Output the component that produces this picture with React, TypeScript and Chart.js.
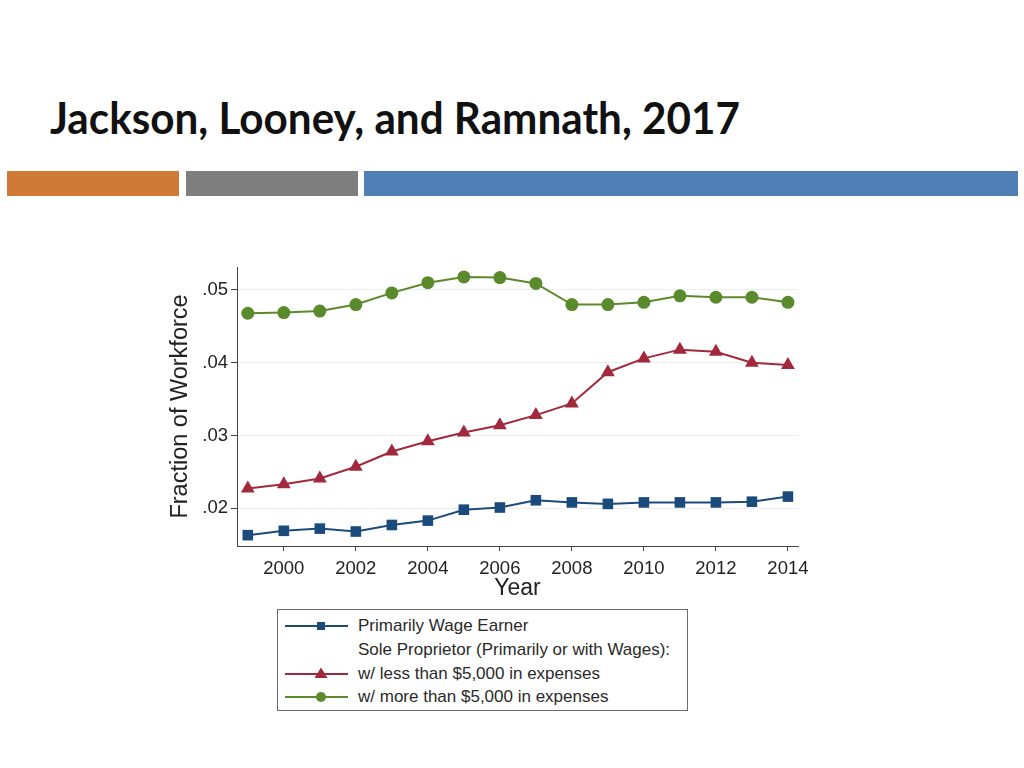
import React, { useEffect, useLayoutEffect, useRef } from "react";
import { Chart, registerables } from "chart.js";

Chart.register(...registerables);

// ---- data ----
const years = [1999, 2000, 2001, 2002, 2003, 2004, 2005, 2006, 2007, 2008, 2009, 2010, 2011, 2012, 2013, 2014];
const wageEarner = [0.0163, 0.0169, 0.0172, 0.0168, 0.0177, 0.0183, 0.0198, 0.0201, 0.0211, 0.0208, 0.0206, 0.0208, 0.0208, 0.0208, 0.0209, 0.0216];
const soleLess = [0.0227, 0.0233, 0.0241, 0.0257, 0.0278, 0.0292, 0.0304, 0.0314, 0.0328, 0.0344, 0.0387, 0.0406, 0.0418, 0.0415, 0.0400, 0.0397];
const soleMore = [0.0468, 0.0469, 0.0471, 0.0480, 0.0496, 0.0510, 0.0518, 0.0517, 0.0509, 0.0480, 0.0480, 0.0483, 0.0492, 0.0490, 0.0490, 0.0483];

const xTickValues = [2000, 2002, 2004, 2006, 2008, 2010, 2012, 2014];
const yTickValues = [0.02, 0.03, 0.04, 0.05];
const yTickLabels = [".02", ".03", ".04", ".05"];

const seriesLabels = [
  "Primarily Wage Earner",
  "w/ less than $5,000 in expenses",
  "w/ more than $5,000 in expenses",
];
const legendHeading = "Sole Proprietor (Primarily or with Wages):";
const slideTitle = "Jackson, Looney, and Ramnath, 2017";
const xAxisTitle = "Year";
const yAxisTitle = "Fraction of Workforce";

// ---- styles ----
const BLUE = "#1b4b7b";
const RED = "#a2293b";
const GREEN = "#5a8a2b";
const FONT = "'Liberation Sans', Arial, Helvetica, sans-serif";

function LegendSample({ kind, color }: { kind: string; color: string }) {
  return (
    <svg width={70} height={20} style={{ position: "absolute", left: 6, top: -10 }}>
      <line x1={1} y1={10} x2={64} y2={10} stroke={color} strokeWidth={2} />
      {kind === "rect" && <rect x={33} y={6} width={8} height={8} fill={color} />}
      {kind === "triangle" && <polygon points="37,3.5 43.5,14 30.5,14" fill={color} />}
      {kind === "circle" && <circle cx={37} cy={10} r={5} fill={color} />}
    </svg>
  );
}

export default function App() {
  const canvasRef = useRef<HTMLCanvasElement | null>(null);
  const titleRef = useRef<HTMLDivElement | null>(null);

  useLayoutEffect(() => {
    const el = titleRef.current;
    if (el) {
      el.style.transform = "none";
      const w = el.getBoundingClientRect().width;
      if (w > 0) el.style.transform = `scaleX(${690 / w})`;
    }
  }, []);

  useEffect(() => {
    const canvas = canvasRef.current;
    if (!canvas) return;
    const mk = (vals: number[]) => years.map((x, i) => ({ x, y: vals[i] }));
    const chart = new Chart(canvas, {
      type: "line",
      data: {
        datasets: [
          {
            label: seriesLabels[0],
            data: mk(wageEarner),
            borderColor: BLUE,
            backgroundColor: BLUE,
            pointBackgroundColor: BLUE,
            pointStyle: "rect",
            pointRadius: 7.5,
            pointBorderWidth: 0,
            borderWidth: 2,
            tension: 0,
          },
          {
            label: seriesLabels[1],
            data: mk(soleLess),
            borderColor: RED,
            backgroundColor: RED,
            pointBackgroundColor: RED,
            pointStyle: "triangle",
            pointRadius: 8,
            pointBorderWidth: 0,
            borderWidth: 2,
            tension: 0,
          },
          {
            label: seriesLabels[2],
            data: mk(soleMore),
            borderColor: GREEN,
            backgroundColor: GREEN,
            pointBackgroundColor: GREEN,
            pointStyle: "circle",
            pointRadius: 6.5,
            pointBorderWidth: 0,
            borderWidth: 2,
            tension: 0,
          },
        ],
      },
      options: {
        responsive: false,
        animation: false,
        events: [],
        layout: { padding: { left: 137, top: 267, right: 226, bottom: 162 } },
        plugins: {
          legend: { display: false },
          tooltip: { enabled: false },
          title: { display: false },
        },
        scales: {
          x: {
            type: "linear",
            min: 1998.7,
            max: 2014.28,
            afterBuildTicks: (s: any) => {
              s.ticks = xTickValues.map((v) => ({ value: v }));
            },
            afterFit: (s: any) => {
              s.height = 60;
            },
            ticks: {
              callback: (v: any) => String(v),
              font: { family: FONT, size: 18.5 },
              color: "#222",
              padding: 7,
              maxRotation: 0,
              autoSkip: false,
            },
            grid: { drawOnChartArea: false, tickLength: 5, tickColor: "#444", tickWidth: 1 },
            border: { color: "#444", width: 1 },
            title: {
              display: true,
              text: xAxisTitle,
              font: { family: FONT, size: 23 },
              color: "#222",
              padding: { top: 0, bottom: 4 },
            },
          },
          y: {
            type: "linear",
            min: 0.01481,
            max: 0.05316,
            afterBuildTicks: (s: any) => {
              s.ticks = yTickValues.map((v) => ({ value: v }));
            },
            afterFit: (s: any) => {
              s.width = 100;
            },
            ticks: {
              callback: (_v: any, i: number) => yTickLabels[i],
              font: { family: FONT, size: 18.5 },
              color: "#222",
              padding: 3,
              autoSkip: false,
            },
            grid: { color: "#eceff2", lineWidth: 1, tickLength: 6, tickColor: "#444", tickWidth: 1 },
            border: { color: "#444", width: 1 },
            title: {
              display: true,
              text: yAxisTitle,
              font: { family: FONT, size: 23.5 },
              color: "#222",
              padding: { top: 29, bottom: 0 },
            },
          },
        },
      },
    } as any);
    return () => chart.destroy();
  }, []);

  const rowTops = [16, 40, 64, 87];
  const legendText: React.CSSProperties = {
    position: "absolute",
    left: 80,
    fontFamily: FONT,
    fontSize: 17,
    color: "#2a2a2a",
    lineHeight: "20px",
    whiteSpace: "nowrap",
  };

  return (
    <div
      style={{
        position: "fixed",
        left: 0,
        top: 0,
        width: 1024,
        height: 768,
        background: "#ffffff",
        overflow: "hidden",
      }}
    >
      <div
        ref={titleRef}
        style={{
          position: "absolute",
          left: 50,
          top: 96,
          fontFamily: "Lato, 'Open Sans', 'Liberation Sans', sans-serif",
          fontWeight: 700,
          fontSize: 43,
          lineHeight: "43px",
          color: "#111",
          whiteSpace: "nowrap",
          transformOrigin: "0 0",
          display: "inline-block",
        }}
      >
        {slideTitle}
      </div>
      <div style={{ position: "absolute", left: 7, top: 171, width: 172, height: 25, background: "#cf7a37" }} />
      <div style={{ position: "absolute", left: 186, top: 171, width: 172, height: 25, background: "#7f7f7f" }} />
      <div style={{ position: "absolute", left: 364, top: 171, width: 654, height: 25, background: "#4f7fb4" }} />

      <canvas
        ref={canvasRef}
        width={1024}
        height={768}
        style={{ position: "absolute", left: 0, top: 0, width: 1024, height: 768 }}
      />

      <div
        style={{
          position: "absolute",
          left: 277,
          top: 609,
          width: 409,
          height: 100,
          border: "1.5px solid #6a6a6a",
          background: "#fff",
        }}
      >
        <div style={{ position: "absolute", left: 0, top: rowTops[0] }}>
          <LegendSample kind="rect" color={BLUE} />
        </div>
        <div style={{ ...legendText, top: rowTops[0] - 10 }}>{seriesLabels[0]}</div>
        <div style={{ ...legendText, top: rowTops[1] - 10 }}>{legendHeading}</div>
        <div style={{ position: "absolute", left: 0, top: rowTops[2] }}>
          <LegendSample kind="triangle" color={RED} />
        </div>
        <div style={{ ...legendText, top: rowTops[2] - 10 }}>{seriesLabels[1]}</div>
        <div style={{ position: "absolute", left: 0, top: rowTops[3] }}>
          <LegendSample kind="circle" color={GREEN} />
        </div>
        <div style={{ ...legendText, top: rowTops[3] - 10 }}>{seriesLabels[2]}</div>
      </div>
    </div>
  );
}
